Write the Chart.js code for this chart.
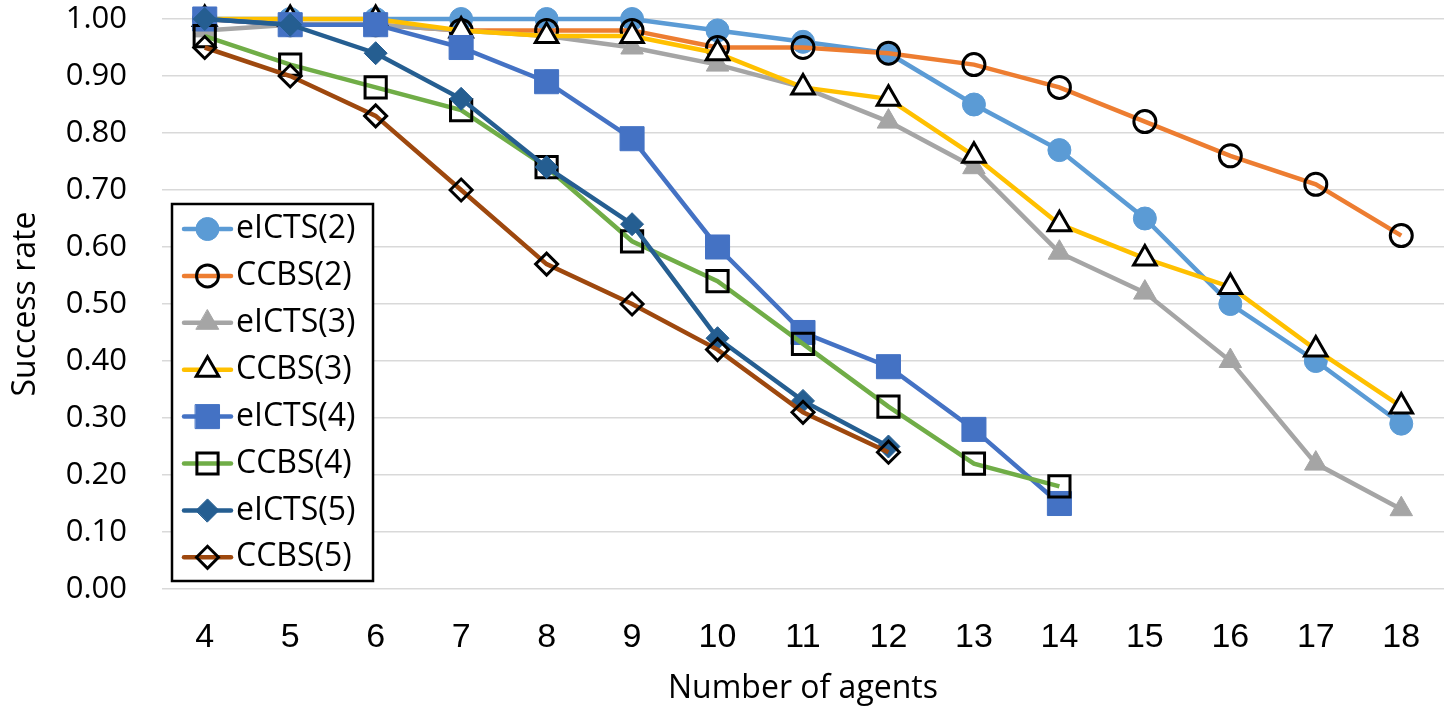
<!DOCTYPE html>
<html>
<head>
<meta charset="utf-8">
<script src="https://cdn.jsdelivr.net/npm/chart.js@4.4.1/dist/chart.umd.min.js"></script>
<style>
  html, body { margin: 0; padding: 0; background: #ffffff; }
  #wrap { width: 1444px; height: 711px; position: relative; }
</style>
</head>
<body>
<div id="wrap"><canvas id="c" width="1444" height="711"></canvas></div>
<script>
// ---- data ----
const categories = ['4','5','6','7','8','9','10','11','12','13','14','15','16','17','18'];
const eICTS2 = [1.00, 1.00, 1.00, 1.00, 1.00, 1.00, 0.98, 0.96, 0.94, 0.85, 0.77, 0.65, 0.50, 0.40, 0.29];
const CCBS2  = [1.00, 0.99, 0.99, 0.98, 0.98, 0.98, 0.95, 0.95, 0.94, 0.92, 0.88, 0.82, 0.76, 0.71, 0.62];
const eICTS3 = [0.98, 0.99, 0.99, 0.98, 0.97, 0.95, 0.92, 0.88, 0.82, 0.74, 0.59, 0.52, 0.40, 0.22, 0.14];
const CCBS3  = [1.00, 1.00, 1.00, 0.98, 0.97, 0.97, 0.94, 0.88, 0.86, 0.76, 0.64, 0.58, 0.53, 0.42, 0.32];
const eICTS4 = [1.00, 0.99, 0.99, 0.95, 0.89, 0.79, 0.60, 0.45, 0.39, 0.28, 0.15, null, null, null, null];
const CCBS4  = [0.97, 0.92, 0.88, 0.84, 0.74, 0.61, 0.54, 0.43, 0.32, 0.22, 0.18, null, null, null, null];
const eICTS5 = [1.00, 0.99, 0.94, 0.86, 0.74, 0.64, 0.44, 0.33, 0.25, null, null, null, null, null, null];
const CCBS5  = [0.95, 0.90, 0.83, 0.70, 0.57, 0.50, 0.42, 0.31, 0.24, null, null, null, null, null, null];
const seriesNames = ['eICTS(2)','CCBS(2)','eICTS(3)','CCBS(3)','eICTS(4)','CCBS(4)','eICTS(5)','CCBS(5)'];
const yTickLabels = ['0.00','0.10','0.20','0.30','0.40','0.50','0.60','0.70','0.80','0.90','1.00'];
const xTitle = 'Number of agents';
const yTitle = 'Success rate';

// ---- styles ----
const LW = 4.5;
function mk(label, data, color, style, radius, fill, border, bw, idx) {
  return {
    label, data,
    borderColor: color, backgroundColor: color, borderWidth: LW,
    pointStyle: style, pointRadius: radius, pointHoverRadius: radius,
    pointBackgroundColor: fill, pointBorderColor: border, pointBorderWidth: bw,
    tension: 0, clip: false, spanGaps: false, order: 10 - idx
  };
}
const datasets = [
  mk(seriesNames[0], eICTS2, '#5B9BD5', 'circle',   11.5, '#5B9BD5', '#5B9BD5', 1, 0),
  mk(seriesNames[1], CCBS2,  '#ED7D31', 'circle',   11,   'rgba(0,0,0,0)', '#000000', 3, 1),
  mk(seriesNames[2], eICTS3, '#A5A5A5', 'triangle', 13,   '#A5A5A5', '#A5A5A5', 1, 2),
  mk(seriesNames[3], CCBS3,  '#FFC000', 'triangle', 13,   '#FFFFFF', '#000000', 3, 3),
  mk(seriesNames[4], eICTS4, '#4472C4', 'rect',     17,   '#4472C4', '#4472C4', 1, 4),
  mk(seriesNames[5], CCBS4,  '#70AD47', 'rect',     15,   'rgba(0,0,0,0)', '#000000', 3, 5),
  mk(seriesNames[6], eICTS5, '#255E91', 'rectRot',  11.5, '#255E91', '#255E91', 1, 6),
  mk(seriesNames[7], CCBS5,  '#9E480E', 'rectRot',  11,   'rgba(0,0,0,0)', '#000000', 3, 7)
];

const FONT = '"Open Sans", "Liberation Sans", sans-serif';

function drawMarker(ctx, ds, x, y) {
  ctx.save();
  ctx.fillStyle = ds.pointBackgroundColor;
  ctx.strokeStyle = ds.pointBorderColor;
  ctx.lineWidth = ds.pointBorderWidth;
  if (Chart.helpers && Chart.helpers.drawPoint) {
    Chart.helpers.drawPoint(ctx, {pointStyle: ds.pointStyle, radius: ds.pointRadius, rotation: 0, borderWidth: ds.pointBorderWidth}, x, y);
  }
  ctx.restore();
}

const boxLegend = {
  id: 'boxLegend',
  afterDatasetsDraw(chart) {
    const ctx = chart.ctx;
    const left = 172, top = 204, w = 201, h = 377;
    ctx.save();
    ctx.fillStyle = '#ffffff';
    ctx.fillRect(left, top, w, h);
    ctx.lineWidth = 2.5;
    ctx.strokeStyle = '#000000';
    ctx.strokeRect(left, top, w, h);
    const step = 46.9;
    chart.data.datasets.forEach((ds, i) => {
      const y = 229 + i * step;
      ctx.beginPath();
      ctx.strokeStyle = ds.borderColor;
      ctx.lineWidth = LW;
      ctx.lineCap = 'round';
      ctx.moveTo(184, y);
      ctx.lineTo(231, y);
      ctx.stroke();
      drawMarker(ctx, ds, 207.5, y);
      ctx.fillStyle = '#000000';
      ctx.font = '32px ' + FONT;
      ctx.textAlign = 'left';
      ctx.textBaseline = 'middle';
      ctx.fillText(ds.label, 236, y);
    });
    ctx.restore();
  }
};

new Chart(document.getElementById('c'), {
  type: 'line',
  data: { labels: categories, datasets },
  options: {
    responsive: false,
    animation: false,
    layout: { autoPadding: false, padding: { top: 19, right: 0, left: 0, bottom: 0 } },
    plugins: {
      legend: { display: false },
      tooltip: { enabled: false }
    },
    scales: {
      x: {
        type: 'category',
        offset: true,
        grid: { display: false, drawTicks: false },
        border: { display: false },
        ticks: { color: '#000000', font: { family: '"Liberation Sans", Arial, sans-serif', size: 34 }, padding: 28, maxRotation: 0, autoSkip: false },
        title: { display: true, text: xTitle, color: '#000000', font: { family: FONT, size: 32 }, padding: { top: 0, bottom: 3 } },
        afterFit(scale) { scale.height = 122; scale.paddingLeft = 0; scale.paddingRight = 0; }
      },
      y: {
        min: 0, max: 1,
        grid: { color: '#D9D9D9', lineWidth: 1.5, drawTicks: false },
        border: { display: false },
        ticks: {
          stepSize: 0.1, color: '#000000', padding: 35,
          font: { family: FONT, size: 31 },
          callback: (v, i) => yTickLabels[Math.round(v * 10)]
        },
        title: { display: true, text: yTitle, color: '#000000', font: { family: FONT, size: 32 }, padding: { top: 7, bottom: 0 } },
        afterFit(scale) { scale.width = 162; scale.paddingTop = 0; scale.paddingBottom = 0; }
      }
    }
  },
  plugins: [boxLegend]
});
</script>
</body>
</html>
